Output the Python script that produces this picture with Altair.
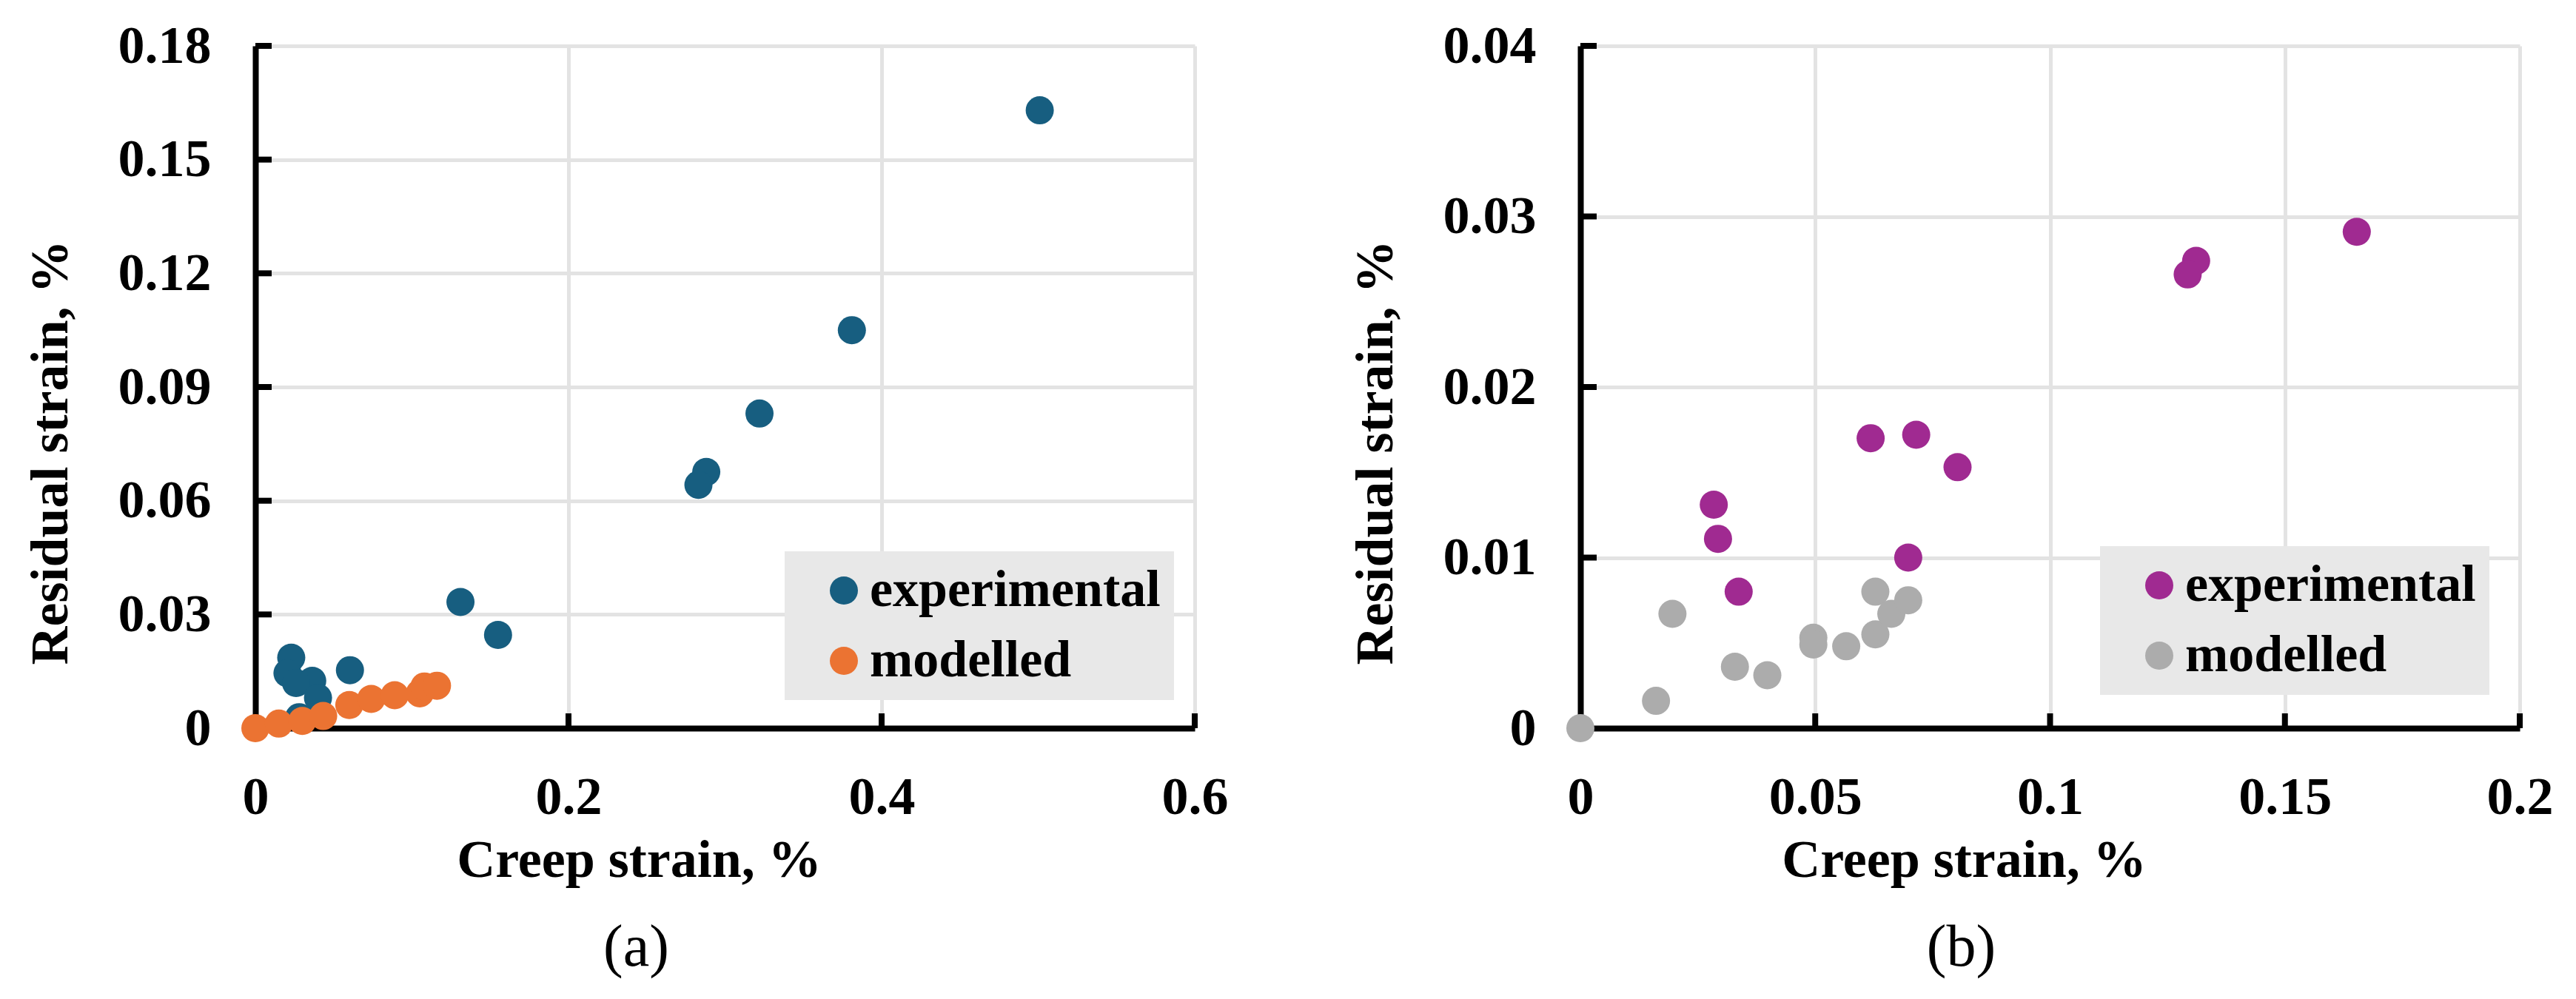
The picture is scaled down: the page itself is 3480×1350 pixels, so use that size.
import altair as alt
import pandas as pd

# ---- panel (a) data ----
a_exp_x = [0.501, 0.381, 0.322, 0.288, 0.283, 0.131, 0.155, 0.0604, 0.0229, 0.0205, 0.0363, 0.026, 0.040, 0.028]
a_exp_y = [0.163, 0.105, 0.083, 0.0676, 0.0642, 0.0333, 0.0246, 0.0153, 0.0186, 0.0145, 0.0125, 0.0119, 0.0080, 0.0029]
a_mod_x = [0.0, 0.015, 0.030, 0.0433, 0.060, 0.074, 0.089, 0.105, 0.108, 0.116]
a_mod_y = [0.0, 0.0012, 0.0019, 0.0032, 0.0061, 0.0077, 0.0087, 0.0092, 0.0110, 0.0112]

# ---- panel (b) data ----
b_exp_x = [0.1653, 0.1311, 0.1293, 0.0715, 0.0618, 0.0803, 0.0284, 0.0293, 0.0698, 0.0337]
b_exp_y = [0.0291, 0.0274, 0.0266, 0.0172, 0.0170, 0.0153, 0.0131, 0.0111, 0.0100, 0.0080]
b_mod_x = [0.0, 0.0161, 0.0196, 0.0329, 0.0398, 0.0496, 0.0496, 0.0566, 0.0628, 0.0628, 0.0662, 0.0698]
b_mod_y = [0.0, 0.0016, 0.0067, 0.0036, 0.0031, 0.0053, 0.0049, 0.0048, 0.0055, 0.0080, 0.0067, 0.0075]

series_names = ["experimental", "modelled"]
a_x_ticks = [0, 0.2, 0.4, 0.6]
a_y_ticks = [0, 0.03, 0.06, 0.09, 0.12, 0.15, 0.18]
b_x_ticks = [0, 0.05, 0.1, 0.15, 0.2]
b_y_ticks = [0, 0.01, 0.02, 0.03, 0.04]
a_colors = ["#175e80", "#eb7332"]
b_colors = ["#a02a91", "#acacac"]

FONT = "Liberation Serif"
W, H = 1269, 922


def make_df(ex, ey, mx, my):
    rows = [{"creep": x, "residual": y, "series": series_names[0]} for x, y in zip(ex, ey)]
    rows += [{"creep": x, "residual": y, "series": series_names[1]} for x, y in zip(mx, my)]
    return pd.DataFrame(rows)


def panel(df, xt, yt, colors, label, lx, ly):
    xs = alt.Scale(domain=[xt[0], xt[-1]], nice=False, zero=False)
    ys = alt.Scale(domain=[yt[0], yt[-1]], nice=False, zero=False)
    common = dict(
        labelFont=FONT, labelFontSize=72, labelFontWeight="bold", labelColor="black",
        titleFont=FONT, titleFontSize=72, titleFontWeight="bold", titleColor="black",
        ticks=False, tickSize=0, domainColor="black", domainWidth=8,
        gridColor="#e3e3e3", gridWidth=5, labelFlush=False, labelOverlap=False,
        format="~g",
    )
    xaxis = alt.Axis(values=xt, title="Creep strain, %", labelPadding=115,
                     labelBaseline="alphabetic", titleX=518, titleY=200,
                     titleBaseline="alphabetic", titleAlign="center", **common)
    yaxis = alt.Axis(values=yt, title="Residual strain, %", labelPadding=60,
                     labelBaseline="middle", titleX=-255, titleY=549,
                     titleBaseline="alphabetic", titleAlign="center", **common)
    pts = alt.Chart(df).mark_circle(size=1444, opacity=1).encode(
        x=alt.X("creep:Q", scale=xs, axis=xaxis),
        y=alt.Y("residual:Q", scale=ys, axis=yaxis),
        color=alt.Color(
            "series:N",
            scale=alt.Scale(domain=series_names, range=colors),
            legend=alt.Legend(
                orient="none", legendX=lx, legendY=ly, title=None,
                fillColor="#e8e8e8", padding=18, symbolOffset=27,
                labelFont=FONT, labelFontSize=70, labelFontWeight="bold",
                labelColor="black", labelLimit=1000, labelOffset=0,
                labelExpr="datum.label + '\u00a0\u00a0'",
                symbolSize=1444, symbolType="circle", symbolStrokeWidth=0,
                symbolOpacity=1, rowPadding=25,
            ),
        ),
    )
    ytick = alt.Chart(pd.DataFrame({"residual": yt[1:]})).mark_rule(
        color="black", strokeWidth=8
    ).encode(y=alt.Y("residual:Q", scale=ys), x=alt.value(0), x2=alt.value(22))
    xtick = alt.Chart(pd.DataFrame({"creep": xt[1:]})).mark_rule(
        color="black", strokeWidth=8
    ).encode(x=alt.X("creep:Q", scale=xs), y=alt.value(H), y2=alt.value(H - 20))
    return alt.layer(pts, ytick, xtick).properties(
        width=W, height=H,
        title=alt.TitleParams(label, orient="bottom", anchor="middle", frame="group",
                              dx=-120, offset=44, font=FONT, fontSize=80,
                              fontWeight="normal", color="black"),
    )


left = panel(make_df(a_exp_x, a_exp_y, a_mod_x, a_mod_y), a_x_ticks, a_y_ticks, a_colors, "(a)", 715, 683)
right = panel(make_df(b_exp_x, b_exp_y, b_mod_x, b_mod_y), b_x_ticks, b_y_ticks, b_colors, "(b)", 702, 676)

chart = alt.hconcat(left, right, spacing=521, bounds="flush").resolve_scale(
    color="independent"
).properties(
    padding={"left": 23, "top": 18, "right": 5, "bottom": 5},
    background="white",
).configure_view(stroke=None)

chart.save("out.html", embed_options={"renderer": "svg", "actions": False})
